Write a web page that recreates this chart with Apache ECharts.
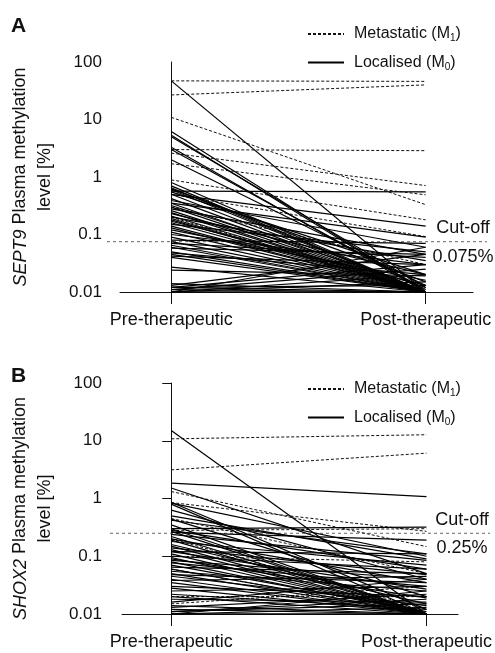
<!DOCTYPE html>
<html>
<head>
<meta charset="utf-8">
<script src="https://cdn.jsdelivr.net/npm/echarts@6/dist/echarts.min.js"></script>
<style>html,body{margin:0;padding:0;background:#fff}#c{width:495px;height:653px}</style>
</head>
<body>
<div id="c"></div>
<script>
// ---------- DATA ----------
const categories = ['Pre-therapeutic', 'Post-therapeutic'];
const yTickLabels = ['0.01', '0.1', '1', '10', '100'];
const seriesNames = ['Metastatic (M1)', 'Localised (M0)'];

// Panel A: SEPT9
const sept9Cutoff = 0.075;
const sept9MetaPre  = [47, 26.7, 10.9, 3.0, 2.6, 1.7, 0.89, 0.5, 0.3, 0.2];
const sept9MetaPost = [46, 40, 0.33, 2.87, 0.71, 0.49, 0.18, 0.092, 0.03, 0.01];
const sept9LocPre  = [47, 6.2, 5.3, 5.0, 3.3, 3.0, 2.0, 0.7, 0.57, 0.65, 0.62, 0.6, 0.55, 0.5, 0.5, 0.42, 0.39, 0.35, 0.32, 0.3,
  0.28, 0.26, 0.24, 0.23, 0.21, 0.2, 0.19, 0.18, 0.17, 0.16, 0.15, 0.14, 0.13, 0.12, 0.11, 0.1, 0.09, 0.08, 0.075, 0.07,
  0.065, 0.06, 0.058, 0.05, 0.048, 0.045, 0.042, 0.04, 0.027, 0.024, 0.014, 0.013, 0.012, 0.012, 0.011, 0.011, 0.01, 0.01, 0.01, 0.01,
  0.01, 0.012, 0.8, 0.35];
const sept9LocPost = [0.01, 0.01, 0.01, 0.012, 0.01, 0.011, 0.013, 0.01, 0.55, 0.01, 0.015, 0.01, 0.02, 0.01, 0.14, 0.01, 0.06, 0.01, 0.012, 0.01,
  0.045, 0.01, 0.01, 0.02, 0.01, 0.035, 0.01, 0.01, 0.013, 0.01, 0.05, 0.01, 0.01, 0.016, 0.01, 0.03, 0.01, 0.07, 0.01, 0.04,
  0.01, 0.01, 0.045, 0.01, 0.02, 0.01, 0.03, 0.01, 0.01, 0.019, 0.01, 0.045, 0.01, 0.03, 0.01, 0.025, 0.01, 0.02, 0.06, 0.015,
  0.01, 0.013, 0.01, 0.09];

// Panel B: SHOX2
const shox2Cutoff = 0.25;
const shox2MetaPre  = [10.8, 3.13, 1.32, 0.85, 0.45, 0.28, 0.1, 0.02, 0.06, 0.2, 0.015];
const shox2MetaPost = [12.7, 6.1, 0.147, 0.27, 0.05, 0.3, 0.08, 0.02, 0.01, 0.012, 0.03];
const shox2LocPre  = [15, 1.84, 1.52, 0.86, 0.83, 0.8, 0.63, 0.44, 0.42, 0.3, 0.3, 0.28, 0.27, 0.26, 0.24, 0.22, 0.2, 0.19, 0.18, 0.16,
  0.15, 0.14, 0.13, 0.12, 0.11, 0.1, 0.095, 0.09, 0.085, 0.08, 0.077, 0.07, 0.065, 0.06, 0.055, 0.05, 0.048, 0.045, 0.04, 0.038,
  0.035, 0.03, 0.028, 0.025, 0.022, 0.02, 0.018, 0.016, 0.014, 0.013, 0.012, 0.011, 0.01, 0.01, 0.01, 0.01, 0.011, 0.5, 0.35, 0.12];
const shox2LocPost = [0.01, 1.08, 0.05, 0.012, 0.1, 0.01, 0.04, 0.02, 0.11, 0.32, 0.01, 0.06, 0.01, 0.19, 0.085, 0.01, 0.035, 0.01, 0.07, 0.015,
  0.01, 0.048, 0.01, 0.027, 0.01, 0.06, 0.01, 0.019, 0.04, 0.01, 0.03, 0.011, 0.05, 0.01, 0.025, 0.01, 0.035, 0.014, 0.01, 0.045,
  0.01, 0.02, 0.01, 0.03, 0.012, 0.01, 0.016, 0.04, 0.01, 0.022, 0.01, 0.018, 0.01, 0.013, 0.025, 0.01, 0.015, 0.09, 0.01, 0.11];

// ---------- BUILD ----------
const FONT = 'Liberation Sans, Arial, Helvetica, sans-serif';
const BLACK = '#111';
const solidStyle = { color: '#000', width: 1.2, type: 'solid' };
const dashStyle = { color: '#111', width: 1, type: [3, 2] };

function pairSeries(pre, post, name, style, axisIdx) {
  return pre.map((v, i) => ({
    type: 'line', name: name, xAxisIndex: axisIdx, yAxisIndex: axisIdx,
    data: [[0, v], [1, post[i]]],
    symbol: 'none', lineStyle: style, itemStyle: { color: style.color },
    silent: true, animation: false, emphasis: { disabled: true }, z: 3
  }));
}
function cutSeries(val, axisIdx) {
  return {
    type: 'line', xAxisIndex: axisIdx, yAxisIndex: axisIdx, data: [[0, val], [1, val]],
    symbol: 'none', silent: true, animation: false, z: 2,
    lineStyle: { color: '#666', width: 1, type: [3, 3] }
  };
}

const grids = [
  { left: 115, top: 62, width: 358, height: 230 },
  { left: 117, top: 383, width: 341, height: 231 },
  { left: 107, top: 62, width: 380, height: 230 },
  { left: 110, top: 383, width: 380, height: 231 }
];

function catXAxis(gi, min, max) {
  return {
    type: 'value', gridIndex: gi, min: min, max: max,
    splitLine: { show: false },
    axisLine: { show: true, onZero: false, lineStyle: { color: BLACK, width: 1 } },
    axisTick: { show: true, customValues: [0, 1], length: 12, lineStyle: { color: BLACK } },
    axisLabel: { show: true, customValues: [0, 1], margin: 19, fontSize: 18, color: BLACK, fontFamily: FONT,
      formatter: v => categories[Math.round(v)] }
  };
}
function logYAxis(gi, ticks, nameRich, gap, pad) {
  return {
    type: 'log', logBase: 10, gridIndex: gi, min: 0.01, max: 100,
    splitLine: { show: false }, minorTick: { show: false },
    axisLine: { show: true, lineStyle: { color: BLACK, width: 1 } },
    axisTick: { show: ticks, length: 9, lineStyle: { color: BLACK } },
    axisLabel: { margin: ticks ? 20 : 18, fontSize: 17, color: BLACK, fontFamily: FONT,
      formatter: (v, idx) => yTickLabels[Math.round(Math.log10(v)) + 2] },
    name: nameRich, nameLocation: 'middle', nameGap: gap, nameRotate: 90,
    nameTextStyle: { fontSize: 18, color: BLACK, fontFamily: FONT, lineHeight: 25, padding: pad,
      rich: { i: { fontStyle: 'italic', fontSize: 18, fontFamily: FONT, color: BLACK } } }
  };
}
function hiddenX(gi) { return { type: 'value', gridIndex: gi, min: 0, max: 1, show: false }; }
function hiddenY(gi) { return { type: 'log', logBase: 10, gridIndex: gi, min: 0.01, max: 100, show: false }; }

const legendRich = {
  t: { fontSize: 16, fontFamily: FONT, color: BLACK },
  s: { fontSize: 10, fontFamily: FONT, color: BLACK, padding: [9, 0, 0, 0] }
};
function legendFmt(name) {
  return name === seriesNames[0] ? '{t|Metastatic (M}{s|1}{t|)}' : '{t|Localised (M}{s|0}{t|)}';
}
function legendAt(top) {
  return {
    data: seriesNames, orient: 'vertical', left: 302, top: top, itemWidth: 36, itemHeight: 10, itemGap: 11,
    formatter: legendFmt, selectedMode: false,
    itemStyle: { opacity: 0, borderWidth: 0 },
    textStyle: { fontSize: 16, fontFamily: FONT, color: BLACK, padding: [0, 0, 0, 5], rich: legendRich }
  };
}

const series = [].concat(
  pairSeries(sept9MetaPre, sept9MetaPost, seriesNames[0], dashStyle, 0),
  pairSeries(sept9LocPre, sept9LocPost, seriesNames[1], solidStyle, 0),
  pairSeries(shox2MetaPre, shox2MetaPost, seriesNames[0], dashStyle, 1),
  pairSeries(shox2LocPre, shox2LocPost, seriesNames[1], solidStyle, 1),
  [cutSeries(sept9Cutoff, 2), cutSeries(shox2Cutoff, 3)]
);

const option = {
  backgroundColor: '#fff',
  animation: false,
  grid: grids,
  xAxis: [catXAxis(0, -52 / 258, 1 + 48 / 258), catXAxis(1, -50 / 259, 1 + 32 / 259), hiddenX(2), hiddenX(3)],
  yAxis: [
    logYAxis(0, false, '{i|SEPT9} Plasma methylation\nlevel [%]', 57, [0, 0, 0, 0]),
    logYAxis(1, true, '{i|SHOX2} Plasma methylation\nlevel [%]', 59, [0, 20, 0, 0]),
    hiddenY(2), hiddenY(3)
  ],
  legend: [legendAt(21), legendAt(376)],
  series: series,
  graphic: [
    { type: 'text', left: 11, top: 16, style: { text: 'A', fontSize: 21, fontWeight: 'bold', fontFamily: FONT, fill: BLACK } },
    { type: 'text', left: 11, top: 366, style: { text: 'B', fontSize: 21, fontWeight: 'bold', fontFamily: FONT, fill: BLACK } },
    { type: 'text', x: 463, y: 228, style: { text: 'Cut-off', fontSize: 18, fontFamily: FONT, fill: BLACK, align: 'center', verticalAlign: 'middle' } },
    { type: 'text', x: 463, y: 257, style: { text: sept9Cutoff + '%', fontSize: 18, fontFamily: FONT, fill: BLACK, align: 'center', verticalAlign: 'middle' } },
    { type: 'text', x: 462, y: 520, style: { text: 'Cut-off', fontSize: 18, fontFamily: FONT, fill: BLACK, align: 'center', verticalAlign: 'middle' } },
    { type: 'text', x: 462, y: 548, style: { text: shox2Cutoff + '%', fontSize: 18, fontFamily: FONT, fill: BLACK, align: 'center', verticalAlign: 'middle' } }
  ]
};

const chart = echarts.init(document.getElementById('c'), null, { renderer: 'canvas' });
chart.setOption(option);
</script>
</body>
</html>
